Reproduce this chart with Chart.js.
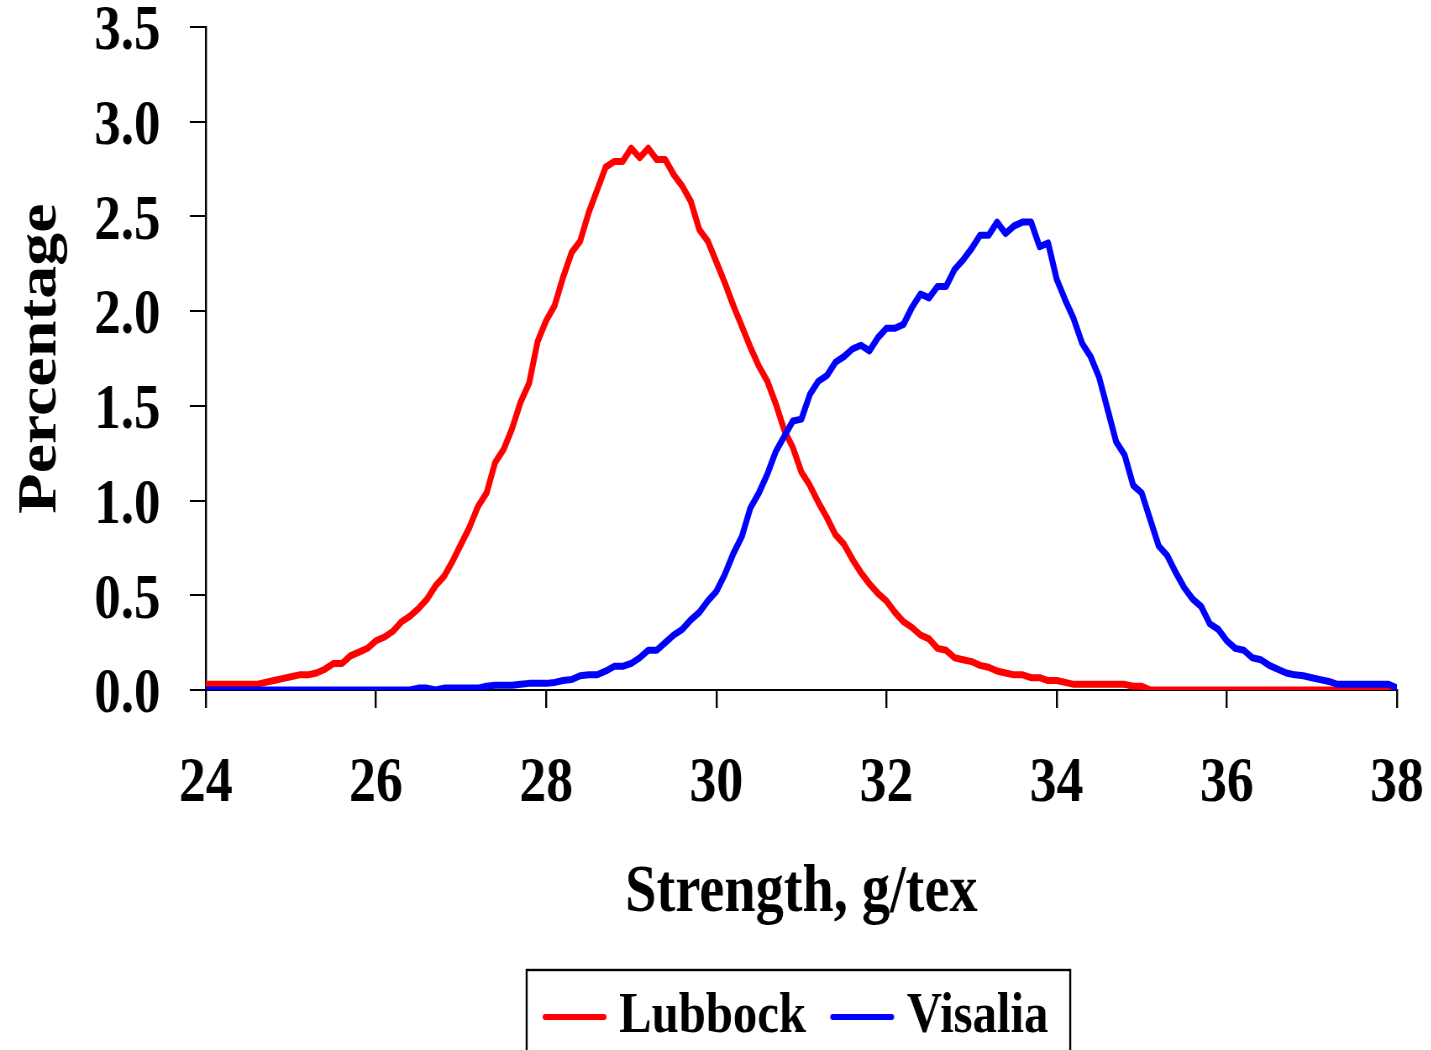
<!DOCTYPE html>
<html>
<head>
<meta charset="utf-8">
<title>Strength distribution</title>
<script src="https://cdn.jsdelivr.net/npm/chart.js@4.4.1/dist/chart.umd.min.js"></script>
<style>
  html, body { margin: 0; padding: 0; background: #fff; overflow: hidden; }
  /* narrow serif look: draw wide, squeeze horizontally */
  #frame { width: 1704px; height: 1056px; transform: scaleX(0.84); transform-origin: 0 0; }
</style>
</head>
<body>
<div id="frame"><canvas id="strengthChart"></canvas></div>
<script>
// bundle strength bins, g/tex
var strength = [
  24.0, 24.1, 24.2, 24.3, 24.4, 24.5, 24.6, 24.7, 24.8, 24.9,
  25.0, 25.1, 25.2, 25.3, 25.4, 25.5, 25.6, 25.7, 25.8, 25.9,
  26.0, 26.1, 26.2, 26.3, 26.4, 26.5, 26.6, 26.7, 26.8, 26.9,
  27.0, 27.1, 27.2, 27.3, 27.4, 27.5, 27.6, 27.7, 27.8, 27.9,
  28.0, 28.1, 28.2, 28.3, 28.4, 28.5, 28.6, 28.7, 28.8, 28.9,
  29.0, 29.1, 29.2, 29.3, 29.4, 29.5, 29.6, 29.7, 29.8, 29.9,
  30.0, 30.1, 30.2, 30.3, 30.4, 30.5, 30.6, 30.7, 30.8, 30.9,
  31.0, 31.1, 31.2, 31.3, 31.4, 31.5, 31.6, 31.7, 31.8, 31.9,
  32.0, 32.1, 32.2, 32.3, 32.4, 32.5, 32.6, 32.7, 32.8, 32.9,
  33.0, 33.1, 33.2, 33.3, 33.4, 33.5, 33.6, 33.7, 33.8, 33.9,
  34.0, 34.1, 34.2, 34.3, 34.4, 34.5, 34.6, 34.7, 34.8, 34.9,
  35.0, 35.1, 35.2, 35.3, 35.4, 35.5, 35.6, 35.7, 35.8, 35.9,
  36.0, 36.1, 36.2, 36.3, 36.4, 36.5, 36.6, 36.7, 36.8, 36.9,
  37.0, 37.1, 37.2, 37.3, 37.4, 37.5, 37.6, 37.7, 37.8, 37.9,
  38.0
];

// percentage of fibres in each bin
var lubbock = [
  0.03, 0.03, 0.03, 0.03, 0.03, 0.03, 0.03, 0.04, 0.05, 0.06,
  0.07, 0.08, 0.08, 0.09, 0.11, 0.14, 0.14, 0.18, 0.20, 0.22,
  0.26, 0.28, 0.31, 0.36, 0.39, 0.43, 0.48, 0.55, 0.60, 0.68,
  0.77, 0.86, 0.97, 1.04, 1.20, 1.27, 1.38, 1.52, 1.62, 1.84,
  1.95, 2.03, 2.18, 2.31, 2.37, 2.52, 2.64, 2.76, 2.79, 2.79,
  2.86, 2.81, 2.86, 2.80, 2.80, 2.72, 2.66, 2.58, 2.43, 2.37,
  2.26, 2.15, 2.03, 1.92, 1.81, 1.71, 1.63, 1.51, 1.37, 1.28,
  1.15, 1.08, 0.99, 0.91, 0.82, 0.77, 0.69, 0.62, 0.56, 0.51,
  0.47, 0.41, 0.36, 0.33, 0.29, 0.27, 0.22, 0.21, 0.17, 0.16,
  0.15, 0.13, 0.12, 0.10, 0.09, 0.08, 0.08, 0.065, 0.065, 0.05,
  0.05, 0.04, 0.03, 0.03, 0.03, 0.03, 0.03, 0.03, 0.03, 0.02,
  0.02, 0, 0, 0, 0, 0, 0, 0, 0, 0,
  0, 0, 0, 0, 0, 0, 0, 0, 0, 0,
  0, 0, 0, 0, 0, 0, 0, 0, 0, 0,
  0
];

var visalia = [
  0, 0, 0, 0, 0, 0, 0, 0, 0, 0,
  0, 0, 0, 0, 0, 0, 0, 0, 0, 0,
  0, 0, 0, 0, 0, 0.01, 0.01, 0, 0.01, 0.01,
  0.01, 0.01, 0.01, 0.02, 0.025, 0.025, 0.025, 0.03, 0.035, 0.035,
  0.035, 0.04, 0.05, 0.055, 0.075, 0.08, 0.08, 0.10, 0.125, 0.125,
  0.14, 0.17, 0.21, 0.21, 0.25, 0.29, 0.32, 0.37, 0.41, 0.47,
  0.52, 0.61, 0.72, 0.81, 0.96, 1.04, 1.14, 1.26, 1.34, 1.42,
  1.43, 1.56, 1.63, 1.66, 1.73, 1.76, 1.80, 1.82, 1.79, 1.86,
  1.91, 1.91, 1.93, 2.02, 2.09, 2.07, 2.13, 2.13, 2.22, 2.27,
  2.33, 2.40, 2.40, 2.47, 2.41, 2.45, 2.47, 2.47, 2.34, 2.36,
  2.17, 2.06, 1.96, 1.83, 1.76, 1.65, 1.48, 1.31, 1.24, 1.08,
  1.04, 0.90, 0.76, 0.71, 0.62, 0.54, 0.48, 0.44, 0.35, 0.32,
  0.26, 0.22, 0.21, 0.17, 0.16, 0.13, 0.11, 0.09, 0.08, 0.075,
  0.065, 0.055, 0.045, 0.03, 0.03, 0.03, 0.03, 0.03, 0.03, 0.03,
  0.01
];

var xTicks = [24, 26, 28, 30, 32, 34, 36, 38];
var yTicks = [0, 0.5, 1.0, 1.5, 2.0, 2.5, 3.0, 3.5];

var RED = "#ff0000";
var BLUE = "#0000ff";

// short line swatch for the legend
function legendLine(color) {
  var c = document.createElement("canvas");
  c.width = 78;
  c.height = 10;
  var g = c.getContext("2d");
  g.strokeStyle = color;
  g.lineWidth = 6;
  g.lineCap = "round";
  g.beginPath();
  g.moveTo(4, 5);
  g.lineTo(74, 5);
  g.stroke();
  return c;
}
var swatches = [legendLine(RED), legendLine(BLUE)];

// thin frame round the legend
var legendFrame = {
  id: "legendFrame",
  afterDraw: function (chart) {
    var boxes = chart.legend && chart.legend.legendHitBoxes;
    if (!boxes || !boxes.length) return;
    var first = boxes[0];
    var last = boxes[boxes.length - 1];
    var left = first.left - 33;
    var right = last.left + last.width + 26;
    var ctx = chart.ctx;
    ctx.save();
    ctx.strokeStyle = "#000";
    ctx.lineWidth = 2.4;
    ctx.strokeRect(left, chart.legend.top + 25, right - left, 140);
    ctx.restore();
  }
};

Chart.defaults.font.family = "'Liberation Serif', 'Times New Roman', serif";
Chart.defaults.font.weight = "bold";
Chart.defaults.color = "#000";

var ctx = document.getElementById("strengthChart");

new Chart(ctx, {
  type: "line",
  data: {
    labels: strength,
    datasets: [
      {
        label: "Lubbock",
        data: lubbock,
        borderColor: RED,
        backgroundColor: RED,
        borderWidth: 7,
        pointRadius: 0,
        tension: 0,
        borderJoinStyle: "round",
        order: 1
      },
      {
        label: "Visalia",
        data: visalia,
        borderColor: BLUE,
        backgroundColor: BLUE,
        borderWidth: 7,
        pointRadius: 0,
        tension: 0,
        borderJoinStyle: "round",
        order: 0
      }
    ]
  },
  options: {
    responsive: true,
    maintainAspectRatio: false,
    devicePixelRatio: 1,
    animation: false,
    events: [],
    layout: {
      padding: { left: 0, right: 41, top: 27, bottom: 0 }
    },
    scales: {
      x: {
        type: "linear",
        min: 24,
        max: 38,
        afterBuildTicks: function (scale) {
          scale.ticks = xTicks.map(function (v) { return { value: v }; });
        },
        afterFit: function (scale) {
          scale.height = 255;
          scale.paddingLeft = 0;
          scale.paddingRight = 0;
        },
        ticks: {
          font: { size: 64, weight: "bold" },
          color: "#000",
          padding: 38,
          maxRotation: 0,
          autoSkip: false
        },
        grid: {
          drawOnChartArea: false,
          color: "#000",
          lineWidth: 2.4,
          tickLength: 18
        },
        border: { color: "#000", width: 2 },
        title: {
          display: true,
          text: "Strength, g/tex",
          font: { size: 67, weight: "bold" },
          color: "#000",
          padding: { top: 0, bottom: 11 }
        }
      },
      y: {
        min: 0,
        max: 3.5,
        afterBuildTicks: function (scale) {
          scale.ticks = yTicks.map(function (v) { return { value: v }; });
        },
        afterFit: function (scale) {
          scale.width = 245;
          scale.paddingTop = 0;
          scale.paddingBottom = 0;
        },
        ticks: {
          font: { size: 63, weight: "bold" },
          color: "#000",
          padding: 35,
          labelOffset: 6,
          callback: function (value) {
            return Number(value).toFixed(1);
          }
        },
        grid: {
          drawOnChartArea: false,
          color: "#000",
          lineWidth: 2,
          tickLength: 19
        },
        border: { color: "#000", width: 2.4 },
        title: {
          display: true,
          text: "Percentage",
          font: { size: 66, weight: "bold" },
          color: "#000",
          padding: { top: 9, bottom: 0 }
        }
      }
    },
    plugins: {
      tooltip: { enabled: false },
      legend: {
        position: "bottom",
        fullSize: false,
        labels: {
          usePointStyle: true,
          pointStyleWidth: 48,
          padding: 43,
          color: "#000",
          font: { size: 58, weight: "bold" },
          generateLabels: function (chart) {
            var items = Chart.defaults.plugins.legend.labels.generateLabels(chart);
            items.sort(function (a, b) { return a.datasetIndex - b.datasetIndex; });
            items.forEach(function (item) {
              item.pointStyle = swatches[item.datasetIndex];
            });
            return items;
          }
        }
      }
    }
  },
  plugins: [legendFrame]
});
</script>
</body>
</html>
